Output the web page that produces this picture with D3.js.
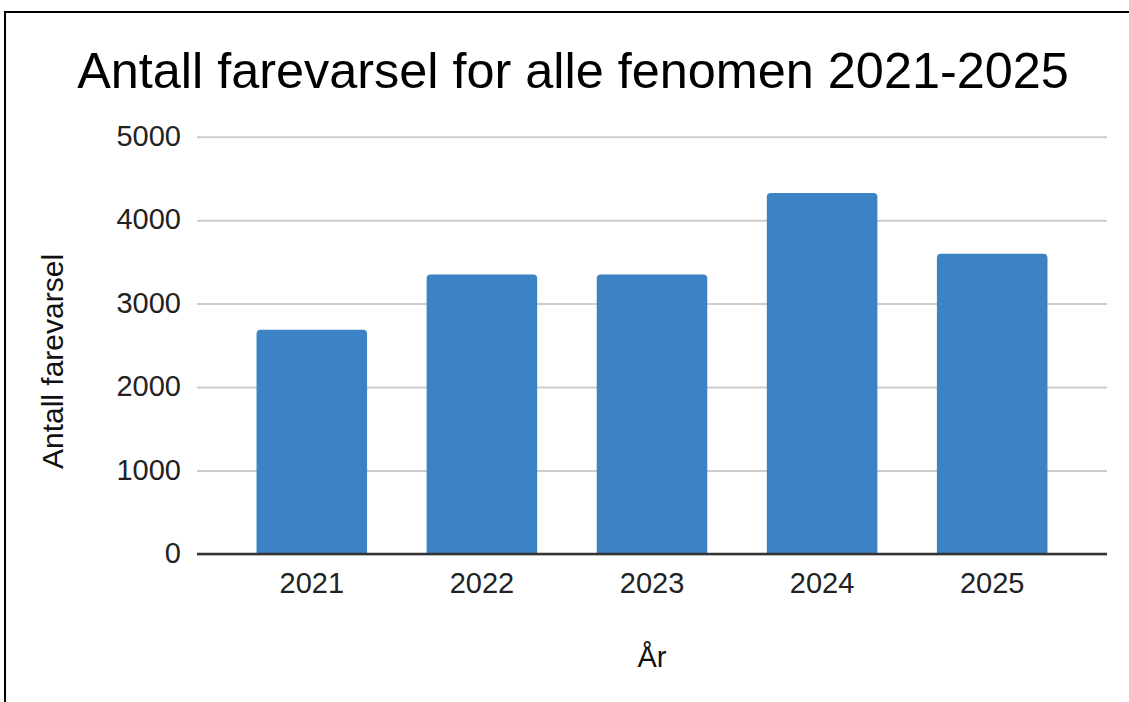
<!DOCTYPE html>
<html><head><meta charset="utf-8">
<script src="https://cdn.jsdelivr.net/npm/d3@7"></script>
<style>html,body{margin:0;padding:0;background:#fff;overflow:hidden}</style>
</head><body>
<svg id="c" width="1129" height="702"></svg>
<script>
const categories = ["2021", "2022", "2023", "2024", "2025"];
const values = [2686, 3349, 3349, 4325, 3597];
const yTicks = [0, 1000, 2000, 3000, 4000, 5000];
const titleText = "Antall farevarsel for alle fenomen 2021-2025";
const xTitle = "År";
const yTitle = "Antall farevarsel";

const svg = d3.select("#c");
const font = "'Liberation Sans', Arial, sans-serif";

// frame
svg.append("rect").attr("x", 5).attr("y", 12).attr("width", 1140).attr("height", 720)
  .attr("fill", "#fff").attr("stroke", "#000").attr("stroke-width", 2);

const pLeft = 197, pRight = 1107, pTop = 136.7, pBottom = 554;
const x = d3.scaleBand().domain(categories).range([pLeft, pRight]).paddingInner(0.35).paddingOuter(0.35);
const y = d3.scaleLinear().domain([0, 5000]).range([pBottom, pTop]);

// gridlines
const yAxis = d3.axisLeft(y).tickValues(yTicks).tickSize(-(pRight - pLeft)).tickFormat(d => d);
const gy = svg.append("g").attr("transform", `translate(${pLeft},0)`).call(yAxis);
gy.select(".domain").remove();
gy.selectAll(".tick line").attr("stroke", "#ccc").attr("stroke-width", 2);
gy.selectAll(".tick text").attr("x", -16).attr("dy", "0.3em")
  .attr("font-family", font).attr("font-size", 29).attr("fill", "#222");

// bars with rounded top corners
const r = 4;
svg.append("g").selectAll("path").data(categories).join("path")
  .attr("fill", "#3d82c4")
  .attr("d", (c, i) => {
    const x0 = x(c), w = x.bandwidth(), y0 = y(values[i]), yb = y(0);
    return `M${x0},${yb}V${y0 + r}Q${x0},${y0} ${x0 + r},${y0}H${x0 + w - r}Q${x0 + w},${y0} ${x0 + w},${y0 + r}V${yb}Z`;
  });

// x axis
const gx = svg.append("g").attr("transform", `translate(0,${pBottom})`).call(d3.axisBottom(x).tickSize(0));
gx.select(".domain").remove();
svg.append("line").attr("x1", pLeft).attr("x2", pRight).attr("y1", pBottom).attr("y2", pBottom)
  .attr("stroke", "#333").attr("stroke-width", 2.5);
gx.selectAll(".tick text").attr("y", 39).attr("dy", 0)
  .attr("font-family", font).attr("font-size", 29).attr("fill", "#222");

// titles
svg.append("text").attr("x", 573).attr("y", 88).attr("text-anchor", "middle")
  .attr("font-family", font).attr("font-size", 50.4).attr("fill", "#000").text(titleText);
svg.append("text").attr("x", (pLeft + pRight) / 2).attr("y", 667).attr("text-anchor", "middle")
  .attr("font-family", font).attr("font-size", 29).attr("fill", "#111").text(xTitle);
svg.append("text").attr("transform", "translate(63,361.5) rotate(-90)").attr("text-anchor", "middle")
  .attr("font-family", font).attr("font-size", 30).attr("fill", "#111").text(yTitle);
</script>
</body></html>
